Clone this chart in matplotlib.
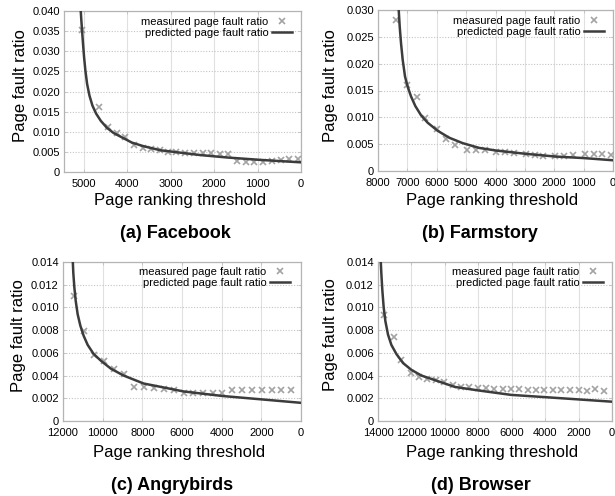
import numpy as np
import matplotlib
matplotlib.use("Agg")
import matplotlib.pyplot as plt
from matplotlib.ticker import FixedLocator, FuncFormatter

plt.rcParams['font.family'] = ['Liberation Sans', 'DejaVu Sans']

# ---------------- data ----------------
# (a) Facebook
fb_thr = [5040, 4635, 4441, 4233, 4042, 3834, 3642, 3449, 3249, 3056, 2864, 2663, 2465,
          2263, 2063, 1863, 1670, 1463, 1270, 1078, 870, 677, 462, 270, 62]
fb_meas = [0.0353, 0.0162, 0.0111, 0.0097, 0.0087, 0.0067, 0.0060, 0.0057, 0.0054, 0.0050,
           0.0050, 0.0048, 0.0048, 0.0046, 0.0046, 0.0044, 0.0044, 0.0028, 0.0026, 0.0025,
           0.0026, 0.0028, 0.0031, 0.0033, 0.0033]
fb_pthr = [5065, 5050, 5035, 5012, 4988, 4958, 4919, 4865, 4796, 4711, 4603, 4465, 4311,
           4118, 3888, 3618, 3233, 2771, 2309, 1693, 924, 0]
fb_pred = [0.0400, 0.0375, 0.0352, 0.0318, 0.0285, 0.0252, 0.0219, 0.0190, 0.0165, 0.0145,
           0.0127, 0.0110, 0.0097, 0.0086, 0.0073, 0.0064, 0.0054, 0.0048, 0.0042, 0.0036,
           0.0030, 0.0024]

# (b) Farmstory
fs_thr = [7395, 6997, 6680, 6395, 5976, 5694, 5388, 4980, 4673, 4354, 3969, 3687, 3367,
          2973, 2667, 2371, 1973, 1667, 1361, 952, 646, 364, 58]
fs_meas = [0.0282, 0.0160, 0.0138, 0.0099, 0.0079, 0.0059, 0.0048, 0.0039, 0.0039, 0.0039,
           0.0036, 0.0036, 0.0034, 0.0032, 0.0030, 0.0028, 0.0028, 0.0028, 0.0030, 0.0031,
           0.0031, 0.0031, 0.0030]
fs_pthr = [7295, 7261, 7216, 7159, 7080, 6990, 6876, 6729, 6537, 6310, 5970, 5574, 5121,
           4554, 3965, 2969, 1972, 975, 0]
fs_pred = [0.0300, 0.0269, 0.0238, 0.0207, 0.0176, 0.0157, 0.0139, 0.0121, 0.0104, 0.0090,
           0.0075, 0.0062, 0.0052, 0.0043, 0.0038, 0.0032, 0.0027, 0.0024, 0.0020]

# (c) Angrybirds
ab_thr = [11462, 10958, 10454, 9950, 9445, 8941, 8437, 7933, 7429, 6924, 6420, 5916, 5429,
          4941, 4454, 3966, 3479, 2975, 2471, 1966, 1479, 992, 504]
ab_meas = [0.0110, 0.0079, 0.0058, 0.0053, 0.0046, 0.0041, 0.0030, 0.0030, 0.0029, 0.0028,
           0.0027, 0.0025, 0.0025, 0.0025, 0.0025, 0.0025, 0.0027, 0.0027, 0.0027, 0.0027,
           0.0027, 0.0027, 0.0027]
ab_pthr = [11513, 11479, 11429, 11361, 11261, 11126, 10958, 10756, 10454, 10084, 9580, 8941,
           7933, 7059, 5916, 3950, 1966, 0]
ab_pred = [0.0143, 0.0130, 0.0118, 0.0106, 0.0094, 0.0084, 0.0075, 0.0067, 0.0059, 0.0053,
           0.0046, 0.0040, 0.0033, 0.0030, 0.0026, 0.0022, 0.0019, 0.0016]

# (d) Browser
br_thr = [13640, 13040, 12640, 12040, 11540, 11040, 10540, 10040, 9540, 9040, 8540, 8040,
          7540, 7040, 6540, 6040, 5540, 5040, 4540, 4040, 3540, 3040, 2540, 2000, 1500, 1000, 500]
br_meas = [0.0093, 0.0074, 0.0054, 0.0042, 0.0039, 0.0037, 0.0036, 0.0034, 0.0032, 0.0030,
           0.0030, 0.0029, 0.0029, 0.0028, 0.0028, 0.0028, 0.0028, 0.0027, 0.0027, 0.0027,
           0.0027, 0.0027, 0.0027, 0.0027, 0.0026, 0.0028, 0.0026]
br_pthr = [13840, 13800, 13740, 13660, 13560, 13400, 13200, 12900, 12500, 12000, 11400,
           10600, 9400, 8040, 6040, 4000, 2000, 0]
br_pred = [0.0142, 0.0130, 0.0115, 0.0100, 0.0088, 0.0076, 0.0067, 0.0059, 0.0051, 0.0045,
           0.0040, 0.0036, 0.0030, 0.0027, 0.0023, 0.0021, 0.0019, 0.0017]

titles = ['(a) Facebook', '(b) Farmstory', '(c) Angrybirds', '(d) Browser']

# ---------------- layout (pixels) ----------------
W, H = 615, 496
fig = plt.figure(figsize=(W / 100, H / 100), dpi=100)

def box(l, r, t, b):
    return [l / W, 1 - b / H, (r - l) / W, (b - t) / H]

panels = [
    dict(pos=box(64, 301, 11, 172), thr=fb_thr, meas=fb_meas, pthr=fb_pthr, pred=fb_pred,
         xmax=5450, xt=np.arange(0, 5001, 1000), ymax=0.040, yt=np.arange(0, 0.0401, 0.005),
         leg=(0.962, 0.963), ylab=(20, 86), xlab=(180, 200), title=(175, 233)),
    dict(pos=box(378, 613, 10, 171), thr=fs_thr, meas=fs_meas, pthr=fs_pthr, pred=fs_pred,
         xmax=8000, xt=np.arange(0, 8001, 1000), ymax=0.030, yt=np.arange(0, 0.0301, 0.005),
         leg=(0.962, 0.963), ylab=(331, 86), xlab=(492, 200), title=(480, 233)),
    dict(pos=box(63, 301, 262, 421), thr=ab_thr, meas=ab_meas, pthr=ab_pthr, pred=ab_pred,
         xmax=12000, xt=np.arange(0, 12001, 2000), ymax=0.014, yt=np.arange(0, 0.01401, 0.002),
         leg=(0.954, 0.97), ylab=(19, 336), xlab=(179, 452), title=(172, 485)),
    dict(pos=box(378, 612, 262, 421), thr=br_thr, meas=br_meas, pthr=br_pthr, pred=br_pred,
         xmax=14000, xt=np.arange(0, 14001, 2000), ymax=0.014, yt=np.arange(0, 0.01401, 0.002),
         leg=(0.96, 0.97), ylab=(331, 335), xlab=(492, 452), title=(481, 485)),
]

def yfmt(v, _):
    if abs(v) < 1e-12:
        return '0'
    return '%.3f' % v

for p, title in zip(panels, titles):
    ax = fig.add_axes(p['pos'])
    ax.plot(p['thr'], p['meas'], linestyle='none', marker='x', color='#a3a3a3',
            markersize=4, markeredgewidth=1.2, label='measured page fault ratio', zorder=3)
    ax.plot(p['pthr'], p['pred'], color='#3c3c3c', linewidth=1.8,
            label='predicted page fault ratio', zorder=4)
    ax.set_xlim(p['xmax'], 0)
    ax.set_ylim(0, p['ymax'])
    ax.xaxis.set_major_locator(FixedLocator(p['xt']))
    ax.yaxis.set_major_locator(FixedLocator(p['yt']))
    ax.yaxis.set_major_formatter(FuncFormatter(yfmt))
    ax.grid(True, axis='x', color='#e0e0e0', linestyle='-', linewidth=0.8)
    ax.grid(True, axis='y', color='#c4c4c4', linestyle=(0, (1, 1.5)), linewidth=0.8)
    ax.set_axisbelow(True)
    for s in ax.spines.values():
        s.set_color('#b4b4b4')
        s.set_linewidth(0.9)
    ax.tick_params(direction='in', length=2, width=0.6, color='#c0c0c0',
                   top=True, right=True, labelsize=8, pad=3)
    ax.tick_params(axis='x', pad=5)
    ax.legend(loc='upper right', bbox_to_anchor=p['leg'], frameon=False, markerfirst=False,
              fontsize=8, numpoints=1, handlelength=1.8, handletextpad=0.3,
              labelspacing=0.1, borderpad=0, borderaxespad=0)
    fig.text(p['ylab'][0] / W, 1 - p['ylab'][1] / H, 'Page fault ratio', rotation=90,
             ha='center', va='center', fontsize=12)
    fig.text(p['xlab'][0] / W, 1 - p['xlab'][1] / H, 'Page ranking threshold',
             ha='center', va='center', fontsize=12)
    fig.text(p['title'][0] / W, 1 - p['title'][1] / H, title,
             ha='center', va='center', fontsize=13, fontweight='bold')

fig.savefig('out.png', dpi=100)
